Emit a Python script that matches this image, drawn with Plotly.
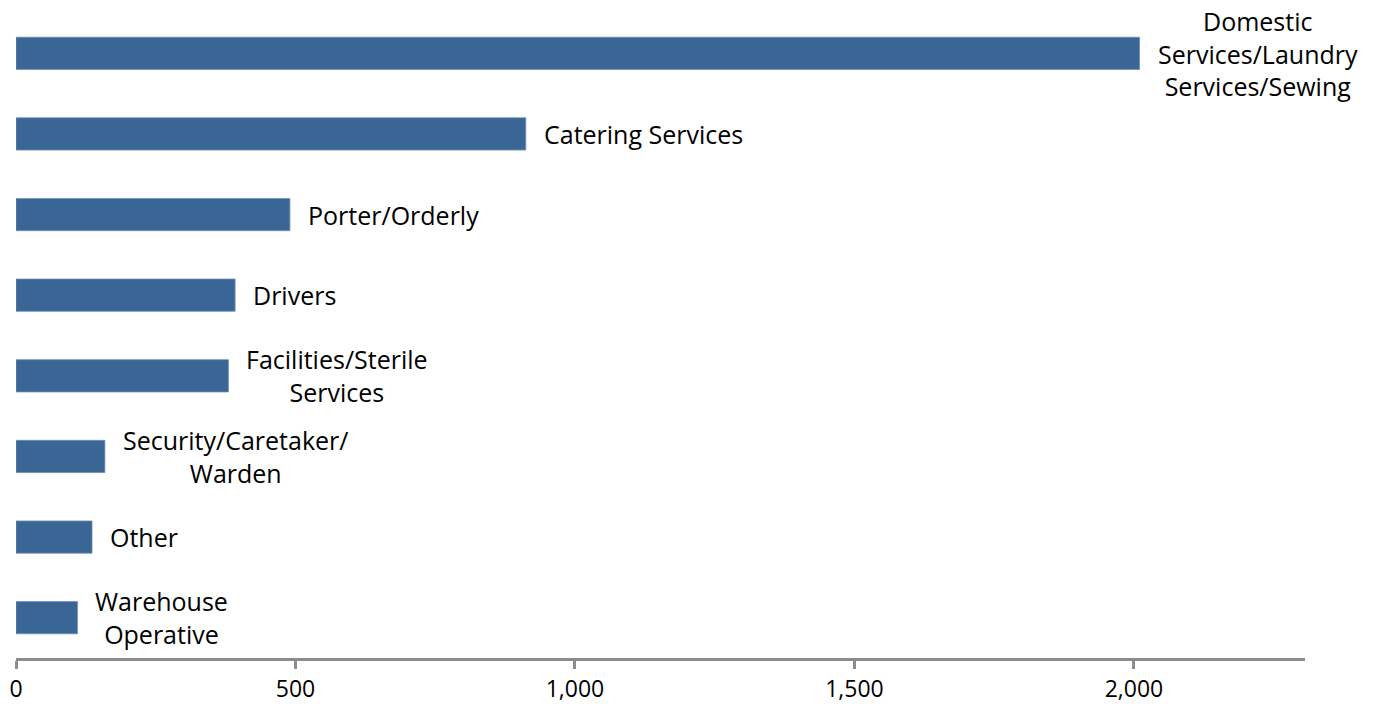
import plotly.graph_objects as go

# Staff group headcounts, listed top to bottom
categories = [
    "Domestic Services/Laundry Services/Sewing",
    "Catering Services",
    "Porter/Orderly",
    "Drivers",
    "Facilities/Sterile Services",
    "Security/Caretaker/Warden",
    "Other",
    "Warehouse Operative",
]
headcount = [2010, 912, 490, 392, 380, 159, 136, 110]

# Wrapped label text shown beside each bar
bar_labels = [
    "Domestic<br>Services/Laundry<br>Services/Sewing",
    "Catering Services",
    "Porter/Orderly",
    "Drivers",
    "Facilities/Sterile<br>Services",
    "Security/Caretaker/<br>Warden",
    "Other",
    "Warehouse<br>Operative",
]

tick_values = [0, 500, 1000, 1500, 2000]
tick_text = ["0", "500", "1,000", "1,500", "2,000"]

BAR_COLOR = "#3A6696"
AXIS_GREY = "#8C8C8C"
FONT = "Open Sans"

fig = go.Figure(
    go.Bar(
        y=categories,
        x=headcount,
        orientation="h",
        marker=dict(color=BAR_COLOR, line=dict(color="#6F8FB8", width=0.8)),
        hoverinfo="x+y",
    )
)

for cat, val, lab in zip(categories, headcount, bar_labels):
    fig.add_annotation(
        x=val,
        y=cat,
        text=lab,
        showarrow=False,
        xanchor="left",
        yanchor="middle",
        xshift=16,
        align="center",
        font=dict(family=FONT, size=25, color="#000000"),
    )

fig.update_layout(
    width=1375,
    height=704,
    margin=dict(l=16, r=70, t=13, b=46, autoexpand=False),
    paper_bgcolor="white",
    plot_bgcolor="white",
    bargap=0.6,
    showlegend=False,
    font=dict(family=FONT, color="#000000"),
)

fig.update_xaxes(
    range=[0, 2306],
    tickvals=tick_values,
    ticktext=tick_text,
    automargin=False,
    showgrid=False,
    zeroline=False,
    showline=True,
    linecolor=AXIS_GREY,
    linewidth=3,
    ticks="outside",
    ticklen=8,
    tickwidth=3,
    tickcolor=AXIS_GREY,
    ticklabelstandoff=0,
    tickfont=dict(family=FONT, size=23, color="#000000"),
)

fig.update_yaxes(
    categoryorder="array",
    categoryarray=categories,
    range=[len(categories) - 0.5, -0.5],
    automargin=False,
    showticklabels=False,
    showgrid=False,
    zeroline=False,
    showline=False,
    ticks="",
)

fig.write_html("out.html")
